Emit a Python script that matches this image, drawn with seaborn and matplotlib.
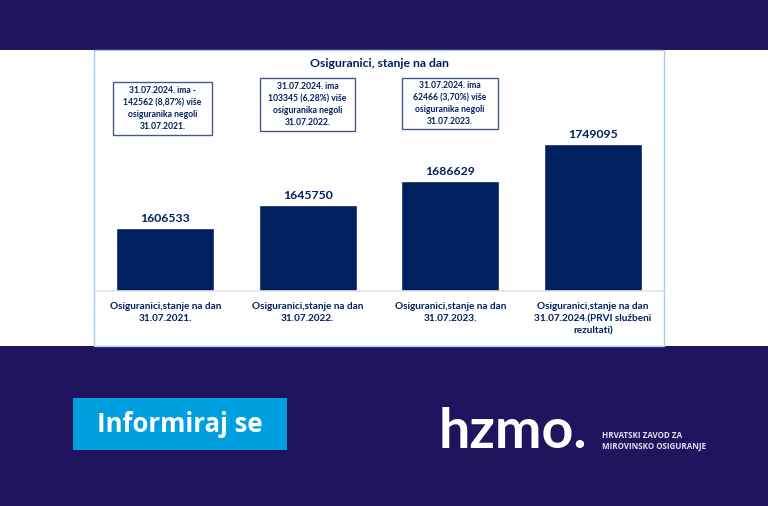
import matplotlib
matplotlib.use('Agg')
import matplotlib.pyplot as plt
from matplotlib.patches import Rectangle
import pandas as pd
import seaborn as sns

categories = [
    'Osiguranici,stanje na dan\n31.07.2021.',
    'Osiguranici,stanje na dan\n31.07.2022.',
    'Osiguranici,stanje na dan\n31.07.2023.',
    'Osiguranici,stanje na dan\n31.07.2024.(PRVI službeni\nrezultati)',
]
values = [1606533, 1645750, 1686629, 1749095]
notes = [
    '31.07.2024. ima -\n142562 (8,87%) više\nosiguranika negoli\n31.07.2021.',
    '31.07.2024. ima\n103345 (6,28%) više\nosiguranika negoli\n31.07.2022.',
    '31.07.2024. ima\n62466 (3,70%) više\nosiguranika negoli\n31.07.2023.',
]
chart_title = 'Osiguranici, stanje na dan'

W, H = 768, 506
DARK = '#21145f'
NAVY = '#002060'
BLUE = '#00a0e0'

sns.set_theme(style='white')
plt.rcParams['font.family'] = ['Lato', 'DejaVu Sans']


def fx(px):
    return px / W


def fy(px):
    return 1 - px / H


def band(x0, y0, x1, y1, zorder=-2, **kw):
    fig.add_artist(Rectangle((fx(x0), fy(y1)), (x1 - x0) / W, (y1 - y0) / H,
                             transform=fig.transFigure, zorder=zorder, **kw))


# small extra so the canvas does not round down to 505 px
fig = plt.figure(figsize=((W + 0.01) / 100, (H + 0.01) / 100), dpi=100, facecolor='white')

# page background and chart frame
band(0, 0, W, 50, facecolor=DARK, edgecolor='none')
band(0, 346, W, H, facecolor=DARK, edgecolor='none')
band(94, 50.5, 664, 346, zorder=-1, facecolor='white', edgecolor='#a9cbe8', linewidth=1)

ax = fig.add_axes([fx(94), fy(291.5), 570 / W, 240 / H])
ax.patch.set_alpha(0)
df = pd.DataFrame({'kategorija': categories, 'osiguranici': values})
sns.barplot(data=df, x='kategorija', y='osiguranici', color=NAVY, saturation=1,
            width=0.685, ax=ax)
ax.set_xlim(-0.5, 3.5)
ax.set_ylim(1499600, 1906900)
ax.set_xlabel('')
ax.set_ylabel('')
ax.set_yticks([])
ax.bar_label(ax.containers[0], fmt='%d', fontsize=8.8, fontweight='bold', color=NAVY, padding=3)
ax.tick_params(axis='x', length=0, pad=7.5)
for lab in ax.get_xticklabels():
    lab.set_fontsize(7.2)
    lab.set_fontweight('bold')
    lab.set_color(NAVY)
    lab.set_linespacing(1.45)
    lab.set_verticalalignment('top')
for side in ['top', 'left', 'right']:
    ax.spines[side].set_visible(False)
ax.spines['bottom'].set_color('#e4e4e4')
ax.spines['bottom'].set_linewidth(1.2)

fig.text(fx(379), fy(63.5), chart_title, ha='center', va='center',
         fontsize=8.8, fontweight='bold', color=NAVY)

# note boxes
boxes = [(113, 82, 212, 135), (260, 78, 355, 131), (402, 78, 498, 129)]
for note, (x0, y0, x1, y1) in zip(notes, boxes):
    band(x0, y0, x1, y1, zorder=1, facecolor='white', edgecolor='#44588f', linewidth=1)
    fig.text(fx((x0 + x1) / 2), fy((y0 + y1) / 2), note, ha='center', va='center',
             fontsize=6.2, fontweight='bold', color=NAVY, linespacing=1.4)

# footer button and logo
band(73, 398, 287, 450, zorder=1, facecolor=BLUE, edgecolor='none')
fig.text(fx(180), fy(424), 'Informiraj se', ha='center', va='center',
         fontsize=18.5, fontweight='bold', color='white', family='Open Sans')
fig.text(fx(439), fy(448), 'hzmo.', ha='left', va='baseline',
         fontsize=40, fontweight='bold', color='white', family='Lato')
fig.text(fx(602), fy(435), 'HRVATSKI ZAVOD ZA', ha='left', va='center',
         fontsize=5.8, fontweight='bold', color='#e4e2ee', family='Open Sans')
fig.text(fx(602), fy(446), 'MIROVINSKO OSIGURANJE', ha='left', va='center',
         fontsize=5.8, fontweight='bold', color='#e4e2ee', family='Open Sans')

fig.savefig('out.png', dpi=100)
